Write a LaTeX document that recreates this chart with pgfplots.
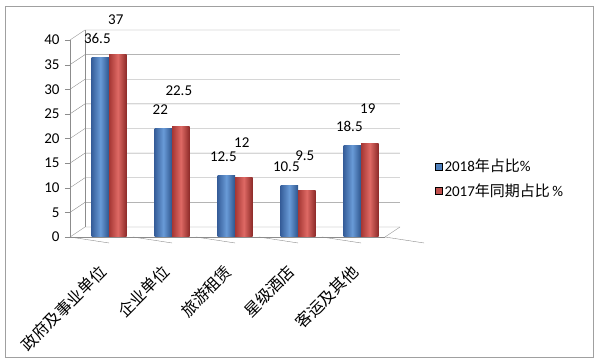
\documentclass[border=0pt]{standalone}
\usepackage{fontspec}
\setmainfont{Carlito}
\newfontfamily\cjk{Noto Sans CJK SC}
\usepackage{pgfplots}
\pgfplotsset{compat=1.18}
\definecolor{gridc}{RGB}{140,140,140}
\definecolor{framec}{RGB}{160,160,160}
\definecolor{bA}{RGB}{79,129,189}
\definecolor{bL}{RGB}{55,95,155}
\definecolor{bM}{RGB}{105,155,215}
\definecolor{bR}{RGB}{45,85,140}
\definecolor{rA}{RGB}{192,80,77}
\definecolor{rL}{RGB}{165,55,52}
\definecolor{rM}{RGB}{222,105,100}
\definecolor{rR}{RGB}{140,42,40}
\pgfplotsset{
  mysq/.style={legend image code/.code={\fill[##1] (0pt,-3.5pt) rectangle (7pt,3.5pt);}},
  blueb/.style={draw=none, left color=bL, right color=bR, middle color=bM,
    bar shift=-8.75pt, forget plot, nodes near coords,
    nodes near coords style={anchor=center, yshift=19pt, xshift=-3pt, font=\fontsize{15}{15}\selectfont, text=black}},
  redb/.style={draw=none, left color=rL, right color=rR, middle color=rM,
    bar shift=8.75pt, forget plot, nodes near coords,
    nodes near coords style={anchor=center, yshift=35pt, xshift=-2pt, font=\fontsize{15}{15}\selectfont, text=black}},
}
\begin{document}
\begin{tikzpicture}
\useasboundingbox (0,0) rectangle (600pt,363pt);
\draw[framec, line width=0.8pt] (5pt,6pt) rectangle (593pt,357pt);
\begin{axis}[
  at={(70pt,126pt)}, anchor=south west,
  scale only axis, width=315pt, height=197pt,
  xmin=-0.62, xmax=4.38, ymin=0, ymax=40,
  clip=false,
  ybar, bar width=17.5pt,
  axis x line*=bottom, axis y line*=left,
  axis line style={gridc, -},
  ytick={0,5,...,40},
  xtick={0,...,4},
  xticklabels={政府及事业单位,企业单位,旅游租赁,星级酒店,客运及其他},
  x tick style={draw=none},
  y tick style={gridc},
  tick align=outside,
  major tick length=5pt,
  /pgf/number format/assume math mode=true,
  yticklabel style={font=\fontsize{15}{15}\selectfont, xshift=-2pt},
  xticklabel style={rotate=45, anchor=north east, font=\cjk\fontsize{16}{16}\selectfont, inner sep=1pt, xshift=-22pt, yshift=-6pt},
  legend style={at={(1.149,0.416)}, anchor=north west, draw=none, fill=none,
    font=\fontsize{15}{15}\selectfont, row sep=6pt, cells={anchor=west}},
  legend cell align=left,
]
% back wall and side wall
\pgfplotsinvokeforeach{0,5,10,15,20,25,30,35,40}{
  \draw[gridc] (axis cs:-0.62,#1) -- ([shift={(15pt,10pt)}]axis cs:-0.62,#1) -- ([shift={(15pt,10pt)}]axis cs:4.38,#1);
}
\draw[gridc] ([shift={(15pt,10pt)}]axis cs:-0.62,0) -- ([shift={(15pt,10pt)}]axis cs:-0.62,40);
\draw[gridc] (axis cs:4.38,0) -- ([shift={(15pt,10pt)}]axis cs:4.38,0);
\pgfplotsinvokeforeach{-0.62,0.38,1.38,2.38,3.38,4.38}{
  \draw[gridc] (axis cs:#1,0) -- ++(0,-6pt);
}
% 2018
\addplot[blueb] coordinates {(0,36.5)};
\addplot[blueb] coordinates {(1,22)};
\addplot[blueb] coordinates {(2,12.5)};
\addplot[blueb] coordinates {(3,10.5)};
\addplot[blueb] coordinates {(4,18.5)};
% 2017
\addplot[redb] coordinates {(0,37)};
\addplot[redb] coordinates {(1,22.5)};
\addplot[redb] coordinates {(2,12)};
\addplot[redb] coordinates {(3,9.5)};
\addplot[redb] coordinates {(4,19)};
\addlegendimage{mysq, fill=bA}
\addlegendentry{2018{\cjk 年占比}\%}
\addlegendimage{mysq, fill=rA}
\addlegendentry{2017{\cjk 年同期占比}\,\%}
\end{axis}
\end{tikzpicture}
\end{document}
